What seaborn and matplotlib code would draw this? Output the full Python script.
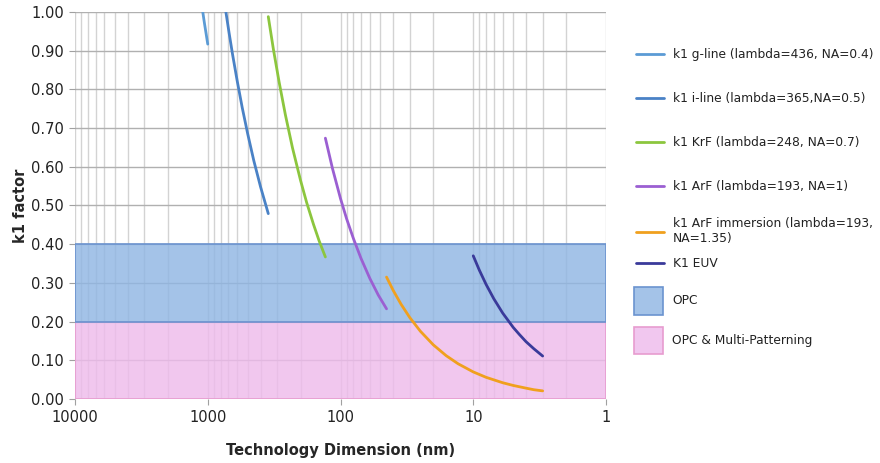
import matplotlib
matplotlib.use("Agg")
import matplotlib.pyplot as plt
from matplotlib.lines import Line2D
from matplotlib.patches import Patch
from matplotlib.colors import to_rgba
from matplotlib.ticker import LogLocator, FixedLocator, NullFormatter
import seaborn as sns
import pandas as pd
import numpy as np

# ---- data ----
gline_x = [1090, 1060, 1030, 1000]
gline_y = [1.000, 0.972, 0.945, 0.917]

iline_x = [730, 690, 650, 600, 550, 500, 450, 400, 350]
iline_y = [1.000, 0.945, 0.890, 0.822, 0.753, 0.685, 0.616, 0.548, 0.479]

krf_x = [350, 320, 290, 260, 230, 200, 180, 160, 145, 130]
krf_y = [0.988, 0.903, 0.819, 0.734, 0.649, 0.565, 0.508, 0.452, 0.409, 0.367]

arf_x = [130, 115, 100, 90, 80, 70, 60, 52, 45]
arf_y = [0.674, 0.596, 0.518, 0.466, 0.415, 0.363, 0.311, 0.269, 0.233]

imm_x = [45, 40, 35, 30, 25, 20, 16, 13, 10, 8, 6, 5, 4, 3.5, 3]
imm_y = [0.315, 0.280, 0.245, 0.210, 0.175, 0.140, 0.112, 0.091, 0.070,
         0.056, 0.042, 0.035, 0.028, 0.024, 0.021]

euv_x = [10, 9, 8, 7, 6, 5, 4.5, 4, 3.5, 3]
euv_y = [0.370, 0.333, 0.296, 0.259, 0.222, 0.185, 0.167, 0.148, 0.130, 0.111]

series_names = ["k1 g-line (lambda=436, NA=0.4)",
                "k1 i-line (lambda=365,NA=0.5)",
                "k1 KrF (lambda=248, NA=0.7)",
                "k1 ArF (lambda=193, NA=1)",
                "k1 ArF immersion (lambda=193,\nNA=1.35)",
                "K1 EUV"]
series_colors = ["#5b9bd5", "#4a82c6", "#8cc63e", "#9b5fd2", "#f0a01e", "#3a3a9a"]

opc_band = (0.20, 0.40)
mp_band = (0.00, 0.20)
band_labels = ["OPC", "OPC & Multi-Patterning"]
band_face = ["#a4c3e8", "#f1c7ef"]          # as seen
band_face_fill = ["#90b6e3", "#eebbeb"]     # translucent fill giving the same look
band_edge = ["#6b93cf", "#e79ccf"]

y_ticks = [0.0, 0.1, 0.2, 0.3, 0.4, 0.5, 0.6, 0.7, 0.8, 0.9, 1.0]
x_ticks = [10000, 1000, 100, 10, 1]
x_tick_labels = ["10000", "1000", "100", "10", "1"]

xs = [gline_x, iline_x, krf_x, arf_x, imm_x, euv_x]
ys = [gline_y, iline_y, krf_y, arf_y, imm_y, euv_y]
df = pd.concat([pd.DataFrame({"x": x, "y": y, "series": n})
                for x, y, n in zip(xs, ys, series_names)], ignore_index=True)

sns.set_theme(style="white")
plt.rcParams["font.family"] = ["DejaVu Sans"]

fig = plt.figure(figsize=(8.8, 4.63), dpi=100)
ax = fig.add_axes([75 / 880, 1 - 399 / 463, (606 - 75) / 880, (399 - 12) / 463])

# bands (slightly translucent, above the grid)
ax.axhspan(*mp_band, facecolor=to_rgba(band_face_fill[1], 0.82), edgecolor=band_edge[1],
           linewidth=1.2, zorder=2)
ax.axhspan(*opc_band, facecolor=to_rgba(band_face_fill[0], 0.82), edgecolor=band_edge[0],
           linewidth=1.2, zorder=2)

sns.lineplot(data=df, x="x", y="y", hue="series", palette=series_colors,
             hue_order=series_names, sort=False, estimator=None, units="series",
             linewidth=2.0, legend=False, ax=ax, zorder=3)

ax.set_xscale("log")
ax.set_xlim(10000, 1)
ax.set_ylim(0, 1.0)
ax.xaxis.set_major_locator(FixedLocator(x_ticks))
ax.set_xticklabels(x_tick_labels)
ax.xaxis.set_minor_locator(LogLocator(base=10, subs=np.arange(2, 10)))
ax.xaxis.set_minor_formatter(NullFormatter())
ax.set_yticks(y_ticks)
ax.set_yticklabels([f"{v:.2f}" for v in y_ticks])

ax.set_axisbelow("line")
ax.grid(True, which="major", axis="y", color="#b0b0b0", linewidth=1.0)
ax.grid(True, which="major", axis="x", color="#d3d3d3", linewidth=1.0)
ax.grid(True, which="minor", axis="x", color="#d3d3d3", linewidth=1.0)
for s in ax.spines.values():
    s.set_visible(False)

ax.tick_params(axis="both", which="major", labelsize=10.5, colors="#222222",
               length=4, width=0.8, direction="out", pad=4, color="#a0a0a0",
               bottom=True, left=True)
ax.tick_params(axis="x", which="minor", length=0)

ax.set_xlabel("Technology Dimension (nm)", fontsize=10.5, fontweight="bold", labelpad=13)
ax.set_ylabel("k1 factor", fontsize=10.5, fontweight="bold", labelpad=2)

# legends
common = dict(loc="upper left", frameon=False, fontsize=8.8, handlelength=2.25,
              handletextpad=0.75, borderaxespad=0, borderpad=0)
hA = [Line2D([], [], color=c, linewidth=2.0) for c in series_colors[:4]]
legA = fig.legend(hA, series_names[:4], bbox_to_anchor=(636 / 880, 1 - 48 / 463),
                  labelspacing=2.54, **common)
hB = [Line2D([], [], color=c, linewidth=2.0) for c in series_colors[4:]]
legB = fig.legend(hB, series_names[4:], bbox_to_anchor=(636 / 880, 1 - 217 / 463),
                  labelspacing=1.0, **common)
hC = [Patch(facecolor=f, edgecolor=e, linewidth=1.2) for f, e in zip(band_face, band_edge)]
legC = fig.legend(hC, band_labels, bbox_to_anchor=(634 / 880, 1 - 287 / 463),
                  handleheight=3.1, labelspacing=1.0,
                  **{**common, "handlelength": 2.4, "handletextpad": 0.7})
for lg in (legA, legB, legC):
    for t in lg.get_texts():
        t.set_color("#222222")

fig.savefig("out.png", dpi=100)
